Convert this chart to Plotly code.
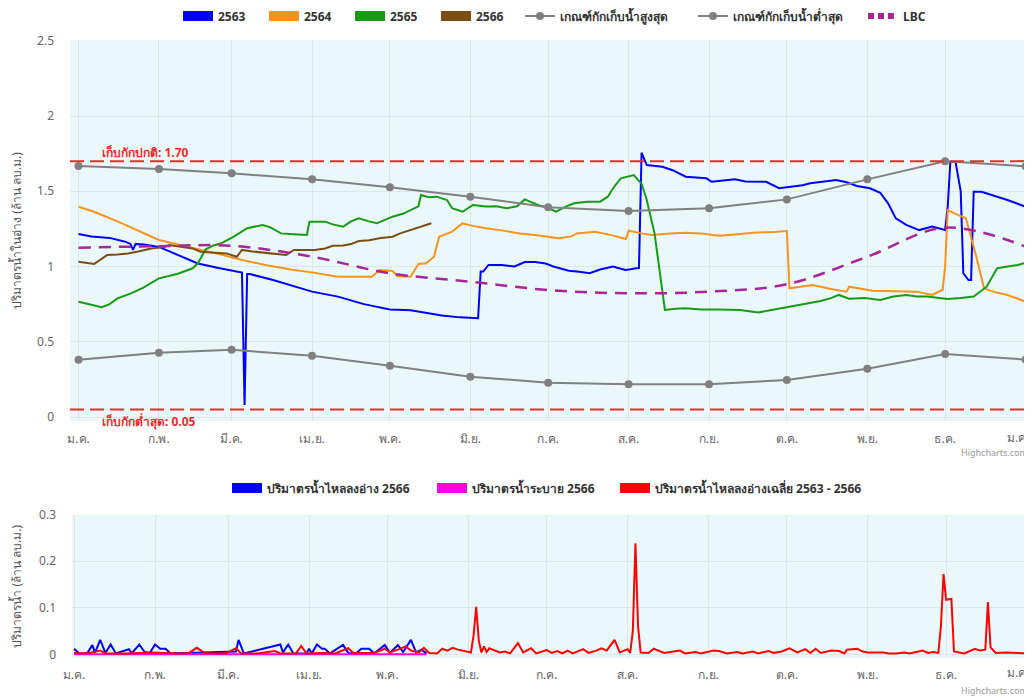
import pandas as pd
import plotly.graph_objects as go

BASE = pd.Timestamp("2023-01-01")

# ---------------- data ----------------
month_labels = ["ม.ค.", "ก.พ.", "มี.ค.", "เม.ย.", "พ.ค.", "มิ.ย.", "ก.ค.",
                "ส.ค.", "ก.ย.", "ต.ค.", "พ.ย.", "ธ.ค.", "ม.ค."]
month_starts = list(pd.date_range("2023-01-01", periods=13, freq="MS"))

normal_storage = 1.70
min_storage = 0.05

rule_upper = [1.668, 1.648, 1.619, 1.579, 1.526, 1.464, 1.393, 1.369, 1.387,
              1.446, 1.579, 1.699, 1.666]
rule_lower = [0.381, 0.427, 0.447, 0.407, 0.341, 0.268, 0.228, 0.217, 0.217,
              0.246, 0.321, 0.419, 0.381]
lbc = [1.125, 1.135, 1.138, 1.065, 0.955, 0.899, 0.844, 0.822, 0.833, 0.882,
       1.065, 1.258, 1.132]

days_2563 = [0, 5, 12, 18, 20, 21, 22, 26, 31, 38, 46, 54, 62, 63, 64, 65, 66,
             75, 90, 100, 110, 120, 128, 135, 140, 147, 154, 155, 156, 158, 163,
             168, 172, 176, 180, 183, 189, 193, 197, 201, 206, 209, 211, 215,
             216, 217, 218, 219, 225, 229, 234, 242, 244, 249, 253, 257, 260,
             265, 270, 274, 279, 282, 286, 292, 296, 300, 305, 309, 312, 315,
             319, 324, 329, 334, 335, 336, 338, 339, 340, 341, 343, 344, 345,
             348, 353, 358, 365]
vol_2563 = [1.216, 1.20, 1.19, 1.165, 1.15, 1.11, 1.15, 1.145, 1.13, 1.08,
            1.02, 0.99, 0.966, 0.96, 0.08, 0.95, 0.95, 0.91, 0.833, 0.80, 0.75,
            0.715, 0.71, 0.69, 0.675, 0.662, 0.656, 0.966, 0.966, 1.01, 1.01,
            1.0, 1.03, 1.03, 1.02, 1.0, 0.972, 0.965, 0.955, 0.98, 1.0, 0.985,
            0.977, 0.988, 0.99, 1.756, 1.72, 1.674, 1.663, 1.64, 1.597, 1.586,
            1.563, 1.57, 1.58, 1.565, 1.563, 1.563, 1.52, 1.53, 1.54, 1.553,
            1.563, 1.575, 1.56, 1.535, 1.52, 1.49, 1.42, 1.32, 1.276, 1.242,
            1.265, 1.242, 1.40, 1.696, 1.696, 1.60, 1.50, 0.955, 0.91, 0.91,
            1.497, 1.497, 1.47, 1.442, 1.397]

days_2564 = [0, 6, 15, 25, 31, 40, 48, 56, 63, 72, 83, 90, 100, 108, 113, 115,
             116, 121, 123, 128, 131, 134, 137, 139, 144, 146, 148, 152, 157,
             163, 170, 176, 181, 185, 190, 192, 199, 205, 211, 212, 217, 221,
             228, 234, 240, 247, 254, 260, 268, 273, 274, 279, 283, 290, 296,
             297, 303, 306, 315, 323, 329, 333, 334, 335, 338, 342, 346, 349,
             353, 358, 365]
vol_2564 = [1.397, 1.364, 1.30, 1.22, 1.176, 1.14, 1.11, 1.075, 1.043, 1.01,
            0.977, 0.961, 0.932, 0.932, 0.932, 0.96, 0.977, 0.97, 0.935, 0.932,
            1.017, 1.021, 1.065, 1.198, 1.231, 1.26, 1.287, 1.27, 1.254, 1.24,
            1.22, 1.21, 1.195, 1.187, 1.20, 1.22, 1.231, 1.21, 1.183, 1.238,
            1.22, 1.209, 1.22, 1.225, 1.22, 1.205, 1.215, 1.225, 1.23, 1.236,
            0.855, 0.87, 0.877, 0.85, 0.833, 0.866, 0.85, 0.839, 0.835, 0.833,
            0.811, 0.844, 1.0, 1.375, 1.35, 1.32, 1.065, 0.855, 0.83, 0.811,
            0.766]

days_2565 = [0, 4, 9, 12, 15, 20, 25, 31, 38, 44, 46, 49, 52, 55, 60, 65, 71,
             74, 78, 83, 88, 89, 95, 98, 102, 105, 108, 112, 115, 118, 121, 125,
             128, 131, 132, 135, 138, 142, 144, 148, 152, 157, 161, 165, 169,
             172, 177, 181, 184, 188, 191, 196, 201, 204, 206, 209, 214, 217,
             219, 222, 226, 230, 234, 240, 247, 255, 262, 268, 274, 280, 286,
             290, 293, 297, 303, 309, 314, 319, 323, 327, 331, 335, 340, 345,
             350, 354, 358, 362, 365]
vol_2565 = [0.766, 0.75, 0.729, 0.75, 0.788, 0.82, 0.86, 0.921, 0.95, 0.988,
            1.021, 1.114, 1.14, 1.154, 1.20, 1.254, 1.276, 1.26, 1.22, 1.215,
            1.209, 1.298, 1.298, 1.28, 1.265, 1.30, 1.32, 1.30, 1.287, 1.31,
            1.331, 1.35, 1.375, 1.40, 1.475, 1.46, 1.464, 1.442, 1.387, 1.364,
            1.409, 1.398, 1.40, 1.387, 1.40, 1.446, 1.409, 1.39, 1.364, 1.40,
            1.42, 1.43, 1.431, 1.464, 1.52, 1.586, 1.608, 1.55, 1.442, 1.22,
            0.711, 0.72, 0.722, 0.715, 0.715, 0.711, 0.695, 0.715, 0.733, 0.75,
            0.771, 0.79, 0.811, 0.786, 0.79, 0.777, 0.80, 0.811, 0.80, 0.80,
            0.79, 0.784, 0.79, 0.80, 0.866, 0.988, 1.0, 1.01, 1.025]

days_2566 = [0, 3, 6, 8, 11, 15, 19, 23, 28, 33, 35, 40, 44, 47, 52, 57, 61,
             63, 67, 72, 77, 80, 83, 88, 91, 95, 98, 102, 105, 108, 112, 116,
             121, 124, 128, 132, 136]
vol_2566 = [1.032, 1.025, 1.017, 1.04, 1.076, 1.08, 1.087, 1.10, 1.12, 1.13,
            1.143, 1.13, 1.12, 1.098, 1.09, 1.087, 1.065, 1.11, 1.10, 1.092,
            1.085, 1.076, 1.11, 1.11, 1.11, 1.12, 1.138, 1.14, 1.149, 1.169,
            1.175, 1.187, 1.198, 1.22, 1.242, 1.265, 1.287]

# lower chart
inflow_days_2566 = [0, 2, 5, 7, 8, 10, 12, 14, 16, 21, 22, 25, 27, 29, 31, 33,
                    35, 37, 62, 63, 65, 79, 80, 82, 84, 89, 90, 91, 93, 95, 96,
                    98, 103, 105, 108, 110, 113, 115, 119, 121, 124, 126, 129,
                    131, 133, 135]
inflow_2566 = [0.012, 0.002, 0.002, 0.020, 0.003, 0.031, 0.003, 0.021, 0.002,
               0.011, 0.002, 0.021, 0.005, 0.003, 0.021, 0.012, 0.012, 0.002,
               0.006, 0.031, 0.002, 0.021, 0.004, 0.021, 0.002, 0.002, 0.012,
               0.002, 0.021, 0.012, 0.012, 0.002, 0.020, 0.003, 0.002, 0.012,
               0.012, 0.002, 0.020, 0.003, 0.020, 0.005, 0.031, 0.004, 0.010,
               0.002]

release_days_2566 = [0, 135]
release_2566 = [0.0, 0.0]

avg_days = [0, 5, 10, 12, 20, 30, 40, 44, 47, 50, 58, 62, 64, 70, 77, 79, 85,
            87, 89, 95, 100, 105, 107, 115, 119, 121, 124, 127, 129, 132, 134,
            136, 139, 141, 143, 145, 147, 150, 152, 153, 154, 155, 156, 157,
            158, 159, 161, 163, 165, 167, 170, 172, 175, 177, 181, 183, 185,
            187, 189, 191, 195, 197, 200, 202, 204, 207, 209, 212, 213, 214,
            215, 216, 217, 220, 222, 224, 226, 232, 234, 238, 240, 245, 247,
            250, 254, 256, 260, 262, 266, 268, 271, 274, 277, 280, 282, 284,
            286, 290, 293, 295, 296, 300, 302, 304, 310, 312, 315, 318, 320,
            325, 327, 329, 331, 332, 333, 334, 336, 337, 341, 345, 347, 349,
            350, 351, 353, 357, 360, 364]
avg_inflow = [0.003, 0.002, 0.008, 0.002, 0.002, 0.004, 0.002, 0.003, 0.014,
              0.003, 0.002, 0.013, 0.002, 0.002, 0.007, 0.002, 0.002, 0.018,
              0.002, 0.003, 0.002, 0.013, 0.003, 0.003, 0.012, 0.004, 0.010,
              0.017, 0.008, 0.004, 0.014, 0.003, 0.002, 0.012, 0.008, 0.014,
              0.010, 0.006, 0.004, 0.040, 0.102, 0.030, 0.004, 0.017, 0.005,
              0.013, 0.008, 0.004, 0.006, 0.002, 0.024, 0.004, 0.013, 0.002,
              0.009, 0.003, 0.007, 0.002, 0.008, 0.002, 0.011, 0.003, 0.008,
              0.013, 0.008, 0.031, 0.004, 0.011, 0.003, 0.050, 0.238, 0.060,
              0.004, 0.003, 0.012, 0.008, 0.003, 0.008, 0.002, 0.005, 0.002,
              0.008, 0.007, 0.002, 0.005, 0.002, 0.006, 0.002, 0.007, 0.003,
              0.006, 0.013, 0.004, 0.011, 0.003, 0.012, 0.003, 0.008, 0.007,
              0.002, 0.010, 0.012, 0.006, 0.004, 0.004, 0.002, 0.002, 0.004,
              0.002, 0.008, 0.003, 0.005, 0.003, 0.060, 0.172, 0.117, 0.119,
              0.006, 0.002, 0.012, 0.008, 0.010, 0.112, 0.015, 0.003, 0.004,
              0.003, 0.002]


def to_dates(days):
    return [BASE + pd.Timedelta(days=d) for d in days]


# ---------------- styles / geometry ----------------
FONT = "Noto Sans, DejaVu Sans, Tahoma, sans-serif"
C_BLUE = "#0000FF"
C_ORANGE = "#F7931E"
C_GREEN = "#169B16"
C_BROWN = "#7D4C10"
C_GRAY = "#808080"
C_LBC = "#A8259A"
C_RED = "#FF0000"
C_MAGENTA = "#FF00DD"
C_PLOTLINE = "#EE2B2B"
BG = "#EAF8FA"
GRID = "#DFE6EA"

# the page body has an 8px margin; the figure fills the rest of the window
OFF = 8
W, H = 1032 - OFF, 697 - OFF


def px_x(px):
    return (px - OFF) / W


def px_y(py):
    return 1 - (py - OFF) / H


# legend entry symbol start (page px) for each item
LEG_TOP_X = [183, 269, 355, 441, 525, 698, 868]
LEG_TOP_Y = 16
LEG_BOT_X = [232, 437, 620]
LEG_BOT_Y = 488
LEG_PAD = 5

fig = go.Figure()
legend_layouts = {}
leg_counter = [0]


def new_legend(xpx, ypx):
    leg_counter[0] += 1
    key = "legend" if leg_counter[0] == 1 else f"legend{leg_counter[0]}"
    legend_layouts[key] = dict(
        x=px_x(xpx - LEG_PAD), xanchor="left", y=px_y(ypx), yanchor="middle",
        orientation="h", itemwidth=30, bgcolor="rgba(0,0,0,0)",
        font=dict(size=12, color="#333333", family=FONT, weight="bold"))
    return key


# ----- top chart -----
year_series = [("2563", days_2563, vol_2563, C_BLUE),
               ("2564", days_2564, vol_2564, C_ORANGE),
               ("2565", days_2565, vol_2565, C_GREEN),
               ("2566", days_2566, vol_2566, C_BROWN)]
for i, (name, d, v, c) in enumerate(year_series):
    fig.add_trace(go.Scatter(x=to_dates(d), y=v, mode="lines", name=name,
                             line=dict(color=c, width=2), showlegend=False,
                             legendgroup=name, xaxis="x", yaxis="y"))
    fig.add_trace(go.Scatter(x=[None], y=[None], mode="lines", name=name,
                             line=dict(color=c, width=10),
                             legend=new_legend(LEG_TOP_X[i], LEG_TOP_Y),
                             legendgroup=name, xaxis="x", yaxis="y"))

fig.add_trace(go.Scatter(x=month_starts, y=rule_upper, mode="lines+markers",
                         name="เกณฑ์กักเก็บน้ำสูงสุด",
                         line=dict(color=C_GRAY, width=2),
                         marker=dict(color=C_GRAY, size=8),
                         legend=new_legend(LEG_TOP_X[4], LEG_TOP_Y),
                         xaxis="x", yaxis="y"))
fig.add_trace(go.Scatter(x=month_starts, y=rule_lower, mode="lines+markers",
                         name="เกณฑ์กักเก็บน้ำต่ำสุด",
                         line=dict(color=C_GRAY, width=2),
                         marker=dict(color=C_GRAY, size=8),
                         legend=new_legend(LEG_TOP_X[5], LEG_TOP_Y),
                         xaxis="x", yaxis="y"))
fig.add_trace(go.Scatter(x=month_starts, y=lbc, mode="lines", name="LBC",
                         line=dict(color=C_LBC, width=2.5, dash="12px,8px",
                                   shape="spline"),
                         showlegend=False, legendgroup="LBC",
                         xaxis="x", yaxis="y"))
fig.add_trace(go.Scatter(x=[None], y=[None], mode="lines", name="LBC",
                         line=dict(color=C_LBC, width=6, dash="6px,4px"),
                         legend=new_legend(LEG_TOP_X[6], LEG_TOP_Y),
                         legendgroup="LBC", xaxis="x", yaxis="y"))

# ----- bottom chart -----
bottom_series = [("ปริมาตรน้ำไหลลงอ่าง 2566", inflow_days_2566, inflow_2566, C_BLUE),
                 ("ปริมาตรน้ำระบาย 2566", release_days_2566, release_2566, C_MAGENTA),
                 ("ปริมาตรน้ำไหลลงอ่างเฉลี่ย 2563 - 2566", avg_days, avg_inflow, C_RED)]
for i, (name, d, v, c) in enumerate(bottom_series):
    fig.add_trace(go.Scatter(x=to_dates(d), y=v, mode="lines", name=name,
                             line=dict(color=c, width=2), showlegend=False,
                             legendgroup=name, xaxis="x2", yaxis="y2"))
    fig.add_trace(go.Scatter(x=[None], y=[None], mode="lines", name=name,
                             line=dict(color=c, width=10),
                             legend=new_legend(LEG_BOT_X[i], LEG_BOT_Y),
                             legendgroup=name, xaxis="x2", yaxis="y2"))

# ----- plot lines (storage levels) -----
for val in (normal_storage, min_storage):
    fig.add_shape(type="line", xref="x domain", yref="y", x0=0, x1=1,
                  y0=val, y1=val,
                  line=dict(color=C_PLOTLINE, width=2, dash="14px,6px"))

label_font = dict(color=C_PLOTLINE, size=12, family=FONT, weight="bold")
fig.add_annotation(text=f"เก็บกักปกติ: {normal_storage:.2f}", xref="paper",
                   yref="y", x=px_x(100), y=normal_storage, xanchor="left",
                   yanchor="middle", yshift=9, showarrow=False,
                   font=label_font)
fig.add_annotation(text=f"เก็บกักต่ำสุด: {min_storage:.2f}", xref="paper",
                   yref="y", x=px_x(100), y=min_storage, xanchor="left",
                   yanchor="middle", yshift=-12, showarrow=False,
                   font=label_font)

for ypx in (452, 690):
    fig.add_annotation(text="Highcharts.com", xref="paper", yref="paper",
                       x=px_x(1030), y=px_y(ypx), xanchor="right",
                       yanchor="middle", showarrow=False,
                       font=dict(color="#999999", size=9, family=FONT))

# ----- axes -----
tick_font = dict(color="#666666", size=12, family=FONT)
top_range = [BASE + pd.Timedelta(days=-3.28), BASE + pd.Timedelta(days=366.7)]
bot_range = [BASE + pd.Timedelta(days=-0.8), BASE + pd.Timedelta(days=366.5)]

# the last month label is justified inside the chart edge (as the original
# chart does), so it is drawn as a right-aligned label instead of a tick text
axis_ticktext = month_labels[:-1] + [""]
for ypx in (437, 672):
    fig.add_annotation(text=month_labels[-1], xref="paper", yref="paper",
                       x=px_x(1031), y=px_y(ypx), xanchor="right",
                       yanchor="middle", showarrow=False, font=tick_font)

xaxis_common = dict(type="date", tickmode="array", tickvals=month_starts,
                    ticktext=axis_ticktext, showgrid=True, gridcolor=GRID,
                    gridwidth=1, zeroline=False, showline=False, ticks="",
                    tickfont=tick_font, automargin=False)

fig.update_layout(
    width=W, height=H,
    margin=dict(l=0, r=0, t=0, b=0, autoexpand=False),
    paper_bgcolor="white", plot_bgcolor=BG,
    font=dict(family=FONT, color="#333333"),
    xaxis=dict(domain=[px_x(70), px_x(1030)], range=top_range, anchor="y",
               ticklabelstandoff=9, **xaxis_common),
    yaxis=dict(domain=[px_y(421), px_y(40)], range=[-0.0266, 2.505],
               anchor="x", tickvals=[0, 0.5, 1, 1.5, 2, 2.5],
               ticktext=["0", "0.5", "1", "1.5", "2", "2.5"],
               showgrid=True, gridcolor=GRID, zeroline=False, ticks="",
               tickfont=tick_font, ticklabelstandoff=15, automargin=False,
               title=dict(text="ปริมาตรน้ำในอ่าง (ล้าน ลบ.ม.)",
                          font=dict(color="#555555", size=12, family=FONT),
                          standoff=12)),
    xaxis2=dict(domain=[px_x(72), px_x(1031)], range=bot_range, anchor="y2",
                ticklabelstandoff=8, **xaxis_common),
    yaxis2=dict(domain=[px_y(658), px_y(514.5)], range=[-0.0079, 0.3],
                anchor="x2", tickvals=[0, 0.1, 0.2, 0.3],
                ticktext=["0", "0.1", "0.2", "0.3"],
                showgrid=True, gridcolor=GRID, zeroline=False, ticks="",
                tickfont=tick_font, ticklabelstandoff=15, automargin=False,
                title=dict(text="ปริมาตรน้ำ (ล้าน ลบ.ม.)",
                           font=dict(color="#555555", size=12, family=FONT),
                           standoff=16)),
    **legend_layouts,
)

fig.write_html("out.html")
